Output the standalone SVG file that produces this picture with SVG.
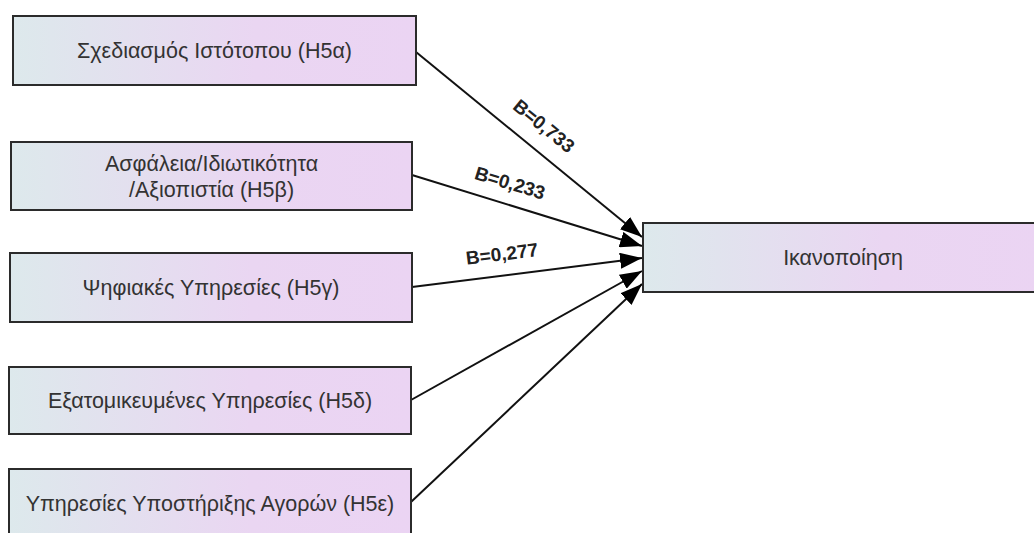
<svg xmlns="http://www.w3.org/2000/svg" width="1034" height="533" viewBox="0 0 1034 533">
  <defs>
    <linearGradient id="fill" x1="0" y1="0" x2="1" y2="0">
      <stop offset="0" stop-color="#dde9ec"/>
      <stop offset="0.6" stop-color="#ead6f2"/>
      <stop offset="1" stop-color="#ebd4f3"/>
    </linearGradient>
    <marker id="arrow" markerUnits="userSpaceOnUse" markerWidth="23" markerHeight="16" refX="22" refY="8" orient="auto">
      <path d="M0,0 L22,8 L0,16 z" fill="#000"/>
    </marker>
    <style>
      .box { fill: url(#fill); stroke: #2b2b2b; stroke-width: 2; }
      .label { font-family: "Liberation Sans", Arial, sans-serif; font-size: 21.5px; fill: #333; text-anchor: middle; }
      .edge { stroke: #111; stroke-width: 2; fill: none; marker-end: url(#arrow); }
      .coef { font-family: "Liberation Sans", Arial, sans-serif; font-size: 19px; font-weight: bold; fill: #222; text-anchor: middle; dominant-baseline: central; }
    </style>
  </defs>
  <rect width="1034" height="533" fill="#fff"/>

  <g id="connectors">
    <line class="edge" x1="416" y1="52" x2="642" y2="237"/>
    <line class="edge" x1="412" y1="175" x2="642" y2="246"/>
    <line class="edge" x1="412" y1="287" x2="642" y2="258"/>
    <line class="edge" x1="411" y1="400" x2="642" y2="271"/>
    <line class="edge" x1="411" y1="502" x2="642" y2="284"/>
    <text class="coef" transform="translate(544,126) rotate(39)">B=0,733</text>
    <text class="coef" transform="translate(510,183) rotate(17)">B=0,233</text>
    <text class="coef" transform="translate(502,254) rotate(-7)">B=0,277</text>
  </g>

  <g id="node-h5a">
    <rect class="box" x="13" y="16" width="403" height="69"/>
    <text class="label" x="214.5" y="58">Σχεδιασμός Ιστότοπου (H5α)</text>
  </g>
  <g id="node-h5b">
    <rect class="box" x="11" y="142" width="401" height="68"/>
    <text class="label" x="211.5" y="171">Ασφάλεια/Ιδιωτικότητα</text>
    <text class="label" x="211.5" y="197">/Αξιοπιστία (H5β)</text>
  </g>
  <g id="node-h5g">
    <rect class="box" x="10" y="253" width="402" height="69"/>
    <text class="label" x="211" y="295">Ψηφιακές Υπηρεσίες (H5γ)</text>
  </g>
  <g id="node-h5d">
    <rect class="box" x="9" y="367" width="402" height="67"/>
    <text class="label" x="210" y="408">Εξατομικευμένες Υπηρεσίες (H5δ)</text>
  </g>
  <g id="node-h5e">
    <rect class="box" x="9" y="469" width="402" height="72"/>
    <text class="label" x="210" y="511">Υπηρεσίες Υποστήριξης Αγορών (H5ε)</text>
  </g>
  <g id="node-satisfaction">
    <rect class="box" x="643" y="223" width="400" height="69"/>
    <text class="label" x="843" y="265">Ικανοποίηση</text>
  </g>
</svg>
